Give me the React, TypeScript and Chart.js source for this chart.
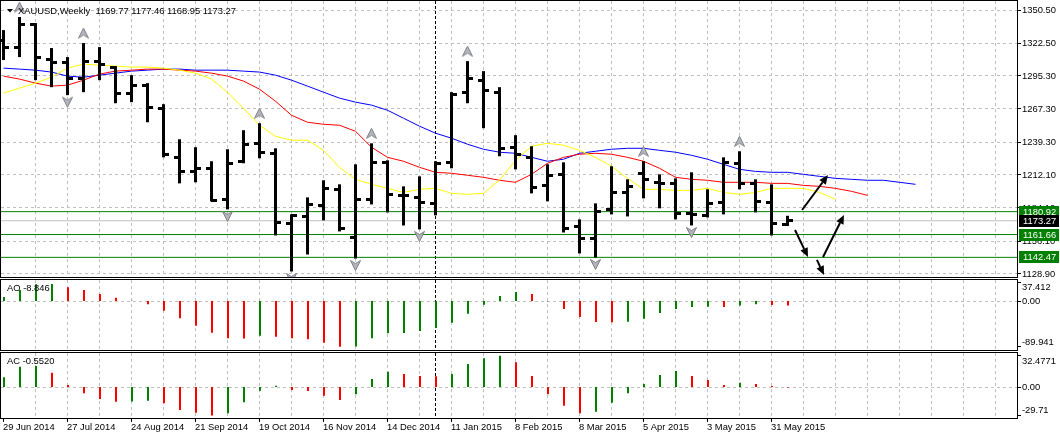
import { useEffect, useRef } from "react";
import { Chart, registerables } from "chart.js";

Chart.register(...registerables);

// ---------------- data ----------------
const symbolName = "XAUUSD";
const periodName = "Weekly";

const dateLabels = [
  "29 Jun 2014", "27 Jul 2014", "24 Aug 2014", "21 Sep 2014", "19 Oct 2014",
  "16 Nov 2014", "14 Dec 2014", "11 Jan 2015", "8 Feb 2015", "8 Mar 2015",
  "5 Apr 2015", "3 May 2015", "31 May 2015",
];
const dateLabelEvery = 4;

const opens = [
  1325.2, 1319.3, 1338.7, 1309.2, 1306.7, 1293.2, 1307.5, 1302.0, 1280.6, 1287.3,
  1267.9, 1226.6, 1214.8, 1217.4, 1191.2, 1223.3, 1238.4, 1230.0, 1171.0, 1176.9,
  1186.2, 1199.7, 1159.2, 1191.2, 1222.4, 1194.6, 1192.9, 1187.9, 1222.4, 1281.4,
  1291.5, 1281.4, 1235.1, 1226.6, 1203.0, 1212.3, 1168.5, 1158.4, 1182.8, 1197.1,
  1213.2, 1205.6, 1204.7, 1179.5, 1177.8, 1188.7, 1221.6, 1204.7, 1188.7, 1169.77,
];
const highs = [
  1333.6, 1344.6, 1339.5, 1318.5, 1310.9, 1322.7, 1319.3, 1303.3, 1295.7, 1289.0,
  1271.3, 1241.8, 1235.1, 1223.3, 1233.4, 1249.4, 1255.3, 1234.2, 1178.6, 1192.9,
  1207.3, 1203.9, 1220.7, 1238.4, 1224.1, 1202.2, 1210.6, 1223.3, 1281.4, 1307.5,
  1299.1, 1285.6, 1245.2, 1235.9, 1220.7, 1222.4, 1174.4, 1187.9, 1219.1, 1208.1,
  1223.3, 1212.3, 1208.9, 1214.0, 1199.7, 1226.6, 1231.7, 1208.1, 1203.9, 1177.46,
];
const lows = [
  1308.4, 1310.9, 1291.5, 1285.6, 1278.9, 1281.4, 1291.5, 1272.1, 1273.0, 1256.1,
  1226.6, 1204.7, 1205.6, 1189.6, 1182.8, 1221.6, 1225.8, 1160.9, 1130.6, 1144.9,
  1173.6, 1164.3, 1141.5, 1187.0, 1180.3, 1169.3, 1166.0, 1177.8, 1217.4, 1272.1,
  1251.1, 1227.5, 1216.5, 1196.3, 1189.6, 1163.4, 1145.8, 1142.4, 1178.6, 1176.9,
  1192.1, 1183.7, 1174.4, 1169.3, 1176.1, 1178.6, 1199.7, 1180.3, 1160.9, 1168.95,
];
const closes = [
  1319.3, 1337.9, 1310.9, 1306.7, 1293.2, 1307.5, 1305.0, 1280.6, 1287.3, 1268.8,
  1229.2, 1214.8, 1217.4, 1190.4, 1221.6, 1237.6, 1230.9, 1171.9, 1177.8, 1187.0,
  1200.5, 1166.8, 1191.2, 1222.4, 1195.5, 1194.6, 1188.7, 1221.6, 1279.7, 1293.2,
  1283.1, 1234.2, 1229.2, 1201.4, 1211.5, 1166.8, 1158.4, 1181.1, 1197.1, 1202.2,
  1208.1, 1204.7, 1179.5, 1178.6, 1187.9, 1222.4, 1204.7, 1189.6, 1171.0, 1173.27,
];

// Alligator lines (jaw = blue, teeth = red, lips = yellow), one value per bar slot
const jaw = [
  1301.6, 1300.8, 1299.9, 1298.3, 1294.9, 1294.0, 1295.7, 1297.4, 1299.1, 1299.9,
  1300.8, 1300.8, 1299.9, 1299.9, 1299.9, 1299.1, 1298.3, 1295.7, 1291.5, 1286.5,
  1281.4, 1276.4, 1273.0, 1270.5, 1266.2, 1259.5, 1252.8, 1246.9, 1242.7, 1237.6,
  1233.4, 1230.9, 1230.0, 1226.6, 1223.3, 1225.0, 1230.0, 1231.7, 1233.4, 1234.2,
  1234.2, 1232.5, 1230.9, 1228.3, 1225.0, 1220.7, 1216.5, 1214.8, 1214.0, 1214.0,
  1212.3, 1210.6, 1208.9, 1208.1, 1207.3, 1207.3, 1205.6, 1203.9,
];
const teeth = [
  1294.9, 1292.4, 1289.0, 1286.5, 1287.3, 1291.5, 1296.6, 1299.1, 1299.9, 1300.8,
  1300.8, 1299.9, 1299.1, 1297.4, 1294.9, 1290.7, 1283.9, 1273.8, 1262.0, 1256.1,
  1254.4, 1253.6, 1248.5, 1235.1, 1226.6, 1223.3, 1218.2, 1214.0, 1213.2, 1211.5,
  1209.8, 1207.3, 1205.6, 1212.3, 1221.6, 1226.6, 1229.2, 1230.0, 1229.2, 1226.6,
  1223.3, 1217.4, 1209.8, 1208.1, 1207.3, 1205.6, 1205.6, 1205.6, 1204.7, 1204.7,
  1203.0, 1202.2, 1200.5, 1198.0, 1194.6,
];
const lips = [
  1280.6, 1284.8, 1289.0, 1294.0, 1301.6, 1305.0, 1304.2, 1303.3, 1302.5, 1302.5,
  1301.6, 1299.9, 1297.4, 1292.4, 1281.4, 1267.9, 1253.6, 1244.3, 1241.0, 1241.0,
  1232.5, 1218.2, 1208.1, 1203.9, 1200.5, 1197.1, 1199.7, 1200.5, 1196.3, 1195.5,
  1196.3, 1207.3, 1224.1, 1235.9, 1238.4, 1236.8, 1232.5, 1226.6, 1219.1, 1208.9,
  1199.7, 1199.7, 1198.8, 1198.8, 1200.5, 1197.1, 1195.5, 1197.1, 1200.5, 1200.5,
  1200.5, 1197.1, 1191.2,
];

const upFractals = [1, 5, 16, 23, 29, 40, 46];
const downFractals = [4, 14, 18, 22, 26, 37, 43];

const priceTicks = [1350.5, 1322.5, 1295.3, 1267.3, 1239.3, 1212.1, 1184.1, 1156.1, 1128.9];
const levelLines = [1180.92, 1161.66, 1142.47];
const separatorBar = 27;

// hand-drawn arrows (bar index / price)
const arrowFromBar = [49.91, 49.47, 50.84, 51.22];
const arrowFromPrice = [1182.3, 1165.5, 1140.3, 1142.8];
const arrowToBar = [51.53, 50.28, 51.28, 52.53];
const arrowToPrice = [1211.7, 1142.8, 1127.6, 1178.1];

const aoValues = [
  7.9, 21.7, 32.9, 33.5, 27.0, 21.7, 13.8, 6.5, 0.6, -6.5,
  -19.1, -34.1, -48.6, -62.4, -73.4, -73.8, -68.3, -70.3, -73.4, -75.4,
  -82.1, -89.941, -89.5, -73.4, -63.6, -63.0, -59.1, -53.1, -42.7, -25.0,
  -7.3, 9.8, 17.7, 13.8, -0.6, -15.7, -31.5, -41.3, -41.8, -41.0,
  -34.8, -23.6, -15.7, -11.8, -11.2, -11.9, -8.9, -6.5, -7.9, -8.846,
];
const aoAxisValues = [37.412, 0, -89.941];
const aoAxisLabels = ["37.412", "0.00", "-89.941"];

const acValues = [
  10.1, 21.1, 21.9, 14.9, 2.1, -6.6, -12.5, -15.3, -15.0, -14.3,
  -17.0, -24.0, -26.8, -29.71, -27.4, -15.9, -3.9, 1.4, -3.1, -4.2,
  -9.1, -13.5, -7.6, 8.3, 15.9, 13.5, 11.5, 11.2, 13.5, 24.0,
  29.9, 32.4771, 25.7, 11.5, -7.6, -19.5, -27.4, -25.7, -16.4, -6.6,
  3.1, 12.5, 16.7, 11.5, 7.3, 2.1, 4.5, 3.1, 1.0, -0.552,
];
const acAxisValues = [32.4771, 0, -29.71];
const acAxisLabels = ["32.4771", "0.00", "-29.71"];

// ---------------- styles ----------------
const FONT = '9.4px "Liberation Sans", Arial, sans-serif';
const GRID = "#c0c0c0";
const UP = "#008000";
const DOWN = "#ff0000";

function makeTickImg(left: boolean) {
  const c = document.createElement("canvas");
  c.width = 13;
  c.height = 3;
  const g = c.getContext("2d")!;
  g.fillStyle = "#000";
  if (left) g.fillRect(1, 0, 6, 3);
  else g.fillRect(6, 0, 6, 3);
  return c;
}

function makeFractalImg(up: boolean) {
  const w = 11;
  const h = up ? 31 : 27;
  const c = document.createElement("canvas");
  c.width = w;
  c.height = h;
  const g = c.getContext("2d")!;
  const t = up ? 0.5 : h - 11.5;
  g.beginPath();
  if (up) {
    g.moveTo(5.5, t);
    g.lineTo(10.5, t + 10);
    g.lineTo(5.5, t + 7);
    g.lineTo(0.5, t + 10);
  } else {
    g.moveTo(5.5, t + 10);
    g.lineTo(10.5, t);
    g.lineTo(5.5, t + 3);
    g.lineTo(0.5, t);
  }
  g.closePath();
  g.fillStyle = "#b4b4bc";
  g.fill();
  g.strokeStyle = "#808088";
  g.lineWidth = 1;
  g.stroke();
  return c;
}

function vline(ctx: CanvasRenderingContext2D, x: number, y0: number, y1: number) {
  ctx.beginPath();
  ctx.moveTo(x, y0);
  ctx.lineTo(x, y1);
  ctx.stroke();
}
function hline(ctx: CanvasRenderingContext2D, y: number, x0: number, x1: number) {
  ctx.beginPath();
  ctx.moveTo(x0, y);
  ctx.lineTo(x1, y);
  ctx.stroke();
}
const crispX = (px: number) => Math.floor(px - 0.25) + 0.5;
const crispY = (py: number) => Math.floor(py + 0.01) + 0.5;

function drawVGrid(chart: any) {
  const { ctx, chartArea: a, scales } = chart;
  const xs = scales.x;
  ctx.save();
  ctx.lineWidth = 1;
  ctx.strokeStyle = GRID;
  ctx.setLineDash([3, 3]);
  for (let i = 2; i < 200; i += 2) {
    const px = xs.getPixelForValue(i);
    if (px >= a.right) break;
    vline(ctx, crispX(px), a.top, a.bottom);
  }
  ctx.restore();
}

function drawSeparator(chart: any) {
  const { ctx, chartArea: a, scales } = chart;
  ctx.save();
  ctx.lineWidth = 1;
  ctx.strokeStyle = "#000";
  ctx.setLineDash([3, 2]);
  vline(ctx, crispX(scales.x.getPixelForValue(separatorBar)), a.top, a.bottom);
  ctx.restore();
}

function drawFrame(chart: any) {
  const { ctx, chartArea: a } = chart;
  ctx.save();
  ctx.lineWidth = 1;
  ctx.strokeStyle = "#000";
  ctx.setLineDash([]);
  ctx.strokeRect(a.left - 0.5, a.top - 0.5, a.right - a.left + 1, a.bottom - a.top + 1);
  ctx.restore();
}

function drawArrow(ctx: CanvasRenderingContext2D, x0: number, y0: number, x1: number, y1: number) {
  const ang = Math.atan2(y1 - y0, x1 - x0);
  const len = 9;
  const hw = 4;
  const bx = x1 - len * Math.cos(ang);
  const by = y1 - len * Math.sin(ang);
  ctx.beginPath();
  ctx.moveTo(x0, y0);
  ctx.lineTo(bx, by);
  ctx.stroke();
  ctx.beginPath();
  ctx.moveTo(x1, y1);
  ctx.lineTo(bx + hw * Math.sin(ang), by - hw * Math.cos(ang));
  ctx.lineTo(bx - hw * Math.sin(ang), by + hw * Math.cos(ang));
  ctx.closePath();
  ctx.fill();
}

const baseOptions = (xMin: number, xMax: number, yMin: number, yMax: number, pad: any) => ({
  responsive: false,
  animation: false,
  devicePixelRatio: 1,
  events: [],
  layout: { padding: pad, autoPadding: false },
  plugins: { legend: { display: false }, tooltip: { enabled: false } },
  scales: {
    x: { type: "linear", min: xMin, max: xMax, display: false, offset: false },
    y: { type: "linear", min: yMin, max: yMax, display: false },
  },
});

function buildMain(canvas: HTMLCanvasElement) {
  const idx = opens.map((_, i) => i);
  const last = closes.length - 1;
  const lineDs = (vals: number[], color: string) => ({
    type: "line",
    data: vals.map((v, i) => ({ x: i, y: v })),
    borderColor: color,
    borderWidth: 1,
    pointRadius: 0,
    pointHoverRadius: 0,
    pointHitRadius: 0,
    tension: 0,
  });
  const hDs = (v: number, color: string) => ({
    type: "line",
    data: [{ x: -5, y: v }, { x: 80, y: v }],
    borderColor: color,
    borderWidth: 1,
    pointRadius: 0,
    pointHoverRadius: 0,
    pointHitRadius: 0,
    clip: 0,
  });
  const pointDs = (data: any[], img: HTMLCanvasElement, clip: any) => ({
    type: "line",
    data,
    showLine: false,
    pointStyle: img,
    pointRadius: 3,
    pointHoverRadius: 3,
    pointBorderWidth: 0,
    clip,
  });

  const plugin = {
    id: "mtMain",
    beforeDatasetsDraw(chart: any) {
      const { ctx, chartArea: a, scales } = chart;
      drawVGrid(chart);
      ctx.save();
      ctx.lineWidth = 1;
      ctx.strokeStyle = GRID;
      ctx.setLineDash([3, 3]);
      priceTicks.forEach((v) => hline(ctx, crispY(scales.y.getPixelForValue(v)), a.left, a.right));
      ctx.restore();
      drawSeparator(chart);
    },
    afterDatasetsDraw(chart: any) {
      const { ctx, scales } = chart;
      ctx.save();
      ctx.strokeStyle = "#000";
      ctx.fillStyle = "#000";
      ctx.lineWidth = 2;
      arrowFromBar.forEach((_, k) => {
        drawArrow(
          ctx,
          scales.x.getPixelForValue(arrowFromBar[k]),
          scales.y.getPixelForValue(arrowFromPrice[k]),
          scales.x.getPixelForValue(arrowToBar[k]),
          scales.y.getPixelForValue(arrowToPrice[k])
        );
      });
      ctx.restore();
    },
    afterDraw(chart: any) {
      const { ctx, chartArea: a, scales } = chart;
      drawFrame(chart);
      ctx.save();
      ctx.font = FONT;
      ctx.textAlign = "left";
      ctx.textBaseline = "middle";
      ctx.fillStyle = "#000";
      ctx.strokeStyle = "#000";
      ctx.lineWidth = 1;
      priceTicks.forEach((v) => {
        const py = scales.y.getPixelForValue(v);
        hline(ctx, crispY(py), a.right, a.right + 4);
        ctx.fillText(v.toFixed(2), a.right + 5, py + 0.5);
      });
      const box = (v: number, bg: string) => {
        const py = scales.y.getPixelForValue(v);
        const top = Math.round(py - 6);
        ctx.fillStyle = bg;
        ctx.fillRect(a.right + 2, top, 40, 12);
        ctx.fillStyle = "#fff";
        ctx.fillText(v.toFixed(2), a.right + 6, top + 6.5);
      };
      levelLines.forEach((v) => box(v, UP));
      box(closes[last], "#000");
      // title
      ctx.fillStyle = "#000";
      ctx.beginPath();
      ctx.moveTo(7, 9);
      ctx.lineTo(13, 9);
      ctx.lineTo(10, 12.5);
      ctx.closePath();
      ctx.fill();
      const title =
        `${symbolName},${periodName}  ` +
        [opens[last], highs[last], lows[last], closes[last]].map((v) => v.toFixed(2)).join(" ");
      ctx.fillText(title, 18, 11);
      ctx.restore();
    },
  };

  return new Chart(canvas as any, {
    type: "bar",
    data: {
      datasets: [
        pointDs(idx.map((i) => ({ x: i, y: opens[i] })), makeTickImg(true), undefined),
        pointDs(idx.map((i) => ({ x: i, y: closes[i] })), makeTickImg(false), undefined),
        {
          type: "bar",
          data: idx.map((i) => ({ x: i, y: [lows[i], highs[i]] })),
          backgroundColor: "#000",
          barThickness: 3,
          borderWidth: 0,
          inflateAmount: 0,
        },
        pointDs(upFractals.map((i) => ({ x: i, y: highs[i] })), makeFractalImg(true), { left: 10, right: 10, top: 0, bottom: 0 }),
        pointDs(downFractals.map((i) => ({ x: i, y: lows[i] })), makeFractalImg(false), { left: 10, right: 10, top: 0, bottom: 0 }),
        lineDs(lips, "#ffff00"),
        lineDs(teeth, "#ff0000"),
        lineDs(jaw, "#0000ff"),
        hDs(closes[last], "#c0c0c0"),
        ...levelLines.map((v) => hDs(v, UP)),
      ],
    } as any,
    options: baseOptions(-0.15625, 63.34375, 1125.96, 1358.07, { left: 1, right: 43, top: 1, bottom: 1 }) as any,
    plugins: [plugin],
  });
}

function buildOsc(
  canvas: HTMLCanvasElement,
  values: number[],
  name: string,
  digits: number,
  axisValues: number[],
  axisLabels: string[],
  yMin: number,
  yMax: number,
  pad: any,
  showDates: boolean
) {
  const colors = values.map((v, i) => (i === 0 || v >= values[i - 1] ? UP : DOWN));
  const plugin = {
    id: "mtOsc" + name,
    beforeDatasetsDraw(chart: any) {
      const { ctx, chartArea: a, scales } = chart;
      drawVGrid(chart);
      ctx.save();
      ctx.lineWidth = 1;
      ctx.strokeStyle = GRID;
      ctx.setLineDash([3, 3]);
      hline(ctx, crispY(scales.y.getPixelForValue(0)), a.left, a.right);
      ctx.restore();
      drawSeparator(chart);
    },
    afterDraw(chart: any) {
      const { ctx, chartArea: a, scales } = chart;
      drawFrame(chart);
      ctx.save();
      ctx.font = FONT;
      ctx.fillStyle = "#000";
      ctx.strokeStyle = "#000";
      ctx.lineWidth = 1;
      ctx.textAlign = "left";
      ctx.textBaseline = "middle";
      ctx.fillText(`${name} ${values[values.length - 1].toFixed(digits)}`, 7, a.top + 8.5);
      axisValues.forEach((v, k) => {
        const py = scales.y.getPixelForValue(v);
        hline(ctx, crispY(py), a.right, a.right + 4);
        ctx.textBaseline = k === 0 ? "top" : k === axisValues.length - 1 ? "bottom" : "middle";
        ctx.fillText(axisLabels[k], a.right + 5, py + (k === 0 ? 1 : k === axisValues.length - 1 ? 0 : 0.5));
      });
      if (showDates) {
        ctx.textBaseline = "middle";
        dateLabels.forEach((lab, k) => {
          const px = scales.x.getPixelForValue(k * dateLabelEvery);
          const cx = crispX(px);
          vline(ctx, cx, a.bottom, a.bottom + 4);
          ctx.fillText(lab, Math.floor(cx), a.bottom + 9.5);
        });
      }
      ctx.restore();
    },
  };
  return new Chart(canvas as any, {
    type: "bar",
    data: {
      datasets: [
        {
          type: "bar",
          data: values.map((v, i) => ({ x: i, y: v })),
          backgroundColor: colors,
          barThickness: 2,
          borderWidth: 0,
          inflateAmount: 0,
        },
      ],
    } as any,
    options: baseOptions(-0.1875, 63.3125, yMin, yMax, pad) as any,
    plugins: [plugin],
  });
}

export default function App() {
  const mainRef = useRef<HTMLCanvasElement>(null);
  const aoRef = useRef<HTMLCanvasElement>(null);
  const acRef = useRef<HTMLCanvasElement>(null);

  useEffect(() => {
    document.body.style.margin = "0";
    const charts = [
      buildMain(mainRef.current!),
      buildOsc(aoRef.current!, aoValues, "AO", 3, aoAxisValues, aoAxisLabels, -96.46, 41.34,
        { left: 1, right: 43, top: 2, bottom: 1 }, false),
      buildOsc(acRef.current!, acValues, "AC", 4, acAxisValues, acAxisLabels, -32.29, 35.42,
        { left: 1, right: 43, top: 2, bottom: 18 }, true),
    ];
    return () => charts.forEach((c) => c.destroy());
  }, []);

  return (
    <div style={{ position: "fixed", left: 0, top: 0, width: 1060, height: 436, background: "#fff", overflow: "hidden" }}>
      <canvas ref={mainRef} width={1060} height={278} style={{ position: "absolute", left: 0, top: 0 }} />
      <canvas ref={aoRef} width={1060} height={73} style={{ position: "absolute", left: 0, top: 278 }} />
      <canvas ref={acRef} width={1060} height={85} style={{ position: "absolute", left: 0, top: 351 }} />
    </div>
  );
}
